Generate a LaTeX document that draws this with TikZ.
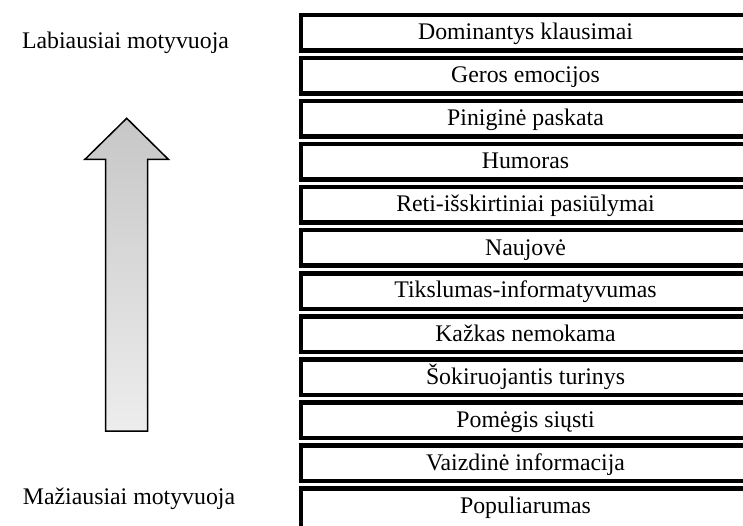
\documentclass[tikz,border=0pt]{standalone}
\usepackage{fontspec}
\setmainfont{Liberation Serif}
\begin{document}
\begin{tikzpicture}[x=1pt,y=-1pt,
  txt/.style={font=\fontsize{23.8}{28}\selectfont, inner sep=0pt},
  rowbox/.style={txt, draw=black, line width=4.5pt, minimum width=449.5pt,
    minimum height=35.5pt, text height=17pt, text depth=3pt, fill=white},
  lastbox/.style={rowbox, minimum height=55.5pt, text depth=23pt},
  lbl/.style={txt, anchor=base}]
\useasboundingbox (0,0) rectangle (743,526);
\clip (0,0) rectangle (743,526);
\foreach \t [count=\k from 0] in {Dominantys klausimai, Geros emocijos, Piniginė paskata, Humoras, Reti-išskirtiniai pasiūlymai, Naujovė, Tikslumas-informatyvumas, Kažkas nemokama, Šokiruojantis turinys, Pomėgis siųsti, Vaizdinė informacija}
  \node[rowbox] (r\k) at (525.5,{33+43*\k}) {\t};
\node[lastbox] (r11) at (525.5,516) {Populiarumas};
\node[lbl] (top) at (125.5,49) {Labiausiai motyvuoja};
\node[lbl] (bottom) at (129,504) {Mažiausiai motyvuoja};
\shade[top color=black!22, bottom color=black!7, draw=black, line width=1.5pt, line join=miter]
  (126.7,118.3) -- (168.3,159.3) -- (147.7,159.3) -- (147.7,431) -- (105.7,431)
  -- (105.7,159.3) -- (85,159.3) -- cycle;
\end{tikzpicture}
\end{document}
